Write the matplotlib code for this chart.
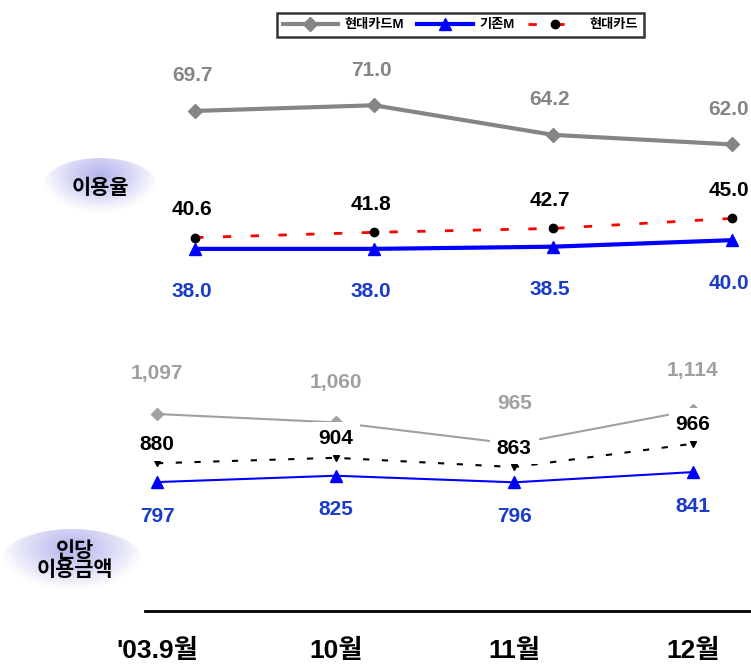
import numpy as np
import matplotlib
matplotlib.use("Agg")
import matplotlib.pyplot as plt
from matplotlib.patches import Ellipse
from matplotlib.colors import LinearSegmentedColormap

plt.rcParams['font.family'] = ['Liberation Sans', 'Noto Sans CJK KR']
plt.rcParams['font.weight'] = 'bold'

# 데이터
months = ["'03.9월", "10월", "11월", "12월"]
series_names = ["현대카드M", "기존M", "현대카드"]

rate_hm = [69.7, 71.0, 64.2, 62.0]      # 이용율 - 현대카드M
rate_old = [38.0, 38.0, 38.5, 40.0]     # 이용율 - 기존M
rate_hc = [40.6, 41.8, 42.7, 45.0]      # 이용율 - 현대카드

amt_hm = [1097, 1060, 965, 1114]        # 인당 이용금액 - 현대카드M
amt_old = [797, 825, 796, 841]          # 인당 이용금액 - 기존M
amt_hc = [880, 904, 863, 966]           # 인당 이용금액 - 현대카드

GRAY = '#858585'
BLUE = '#0000ff'
BLUE_TXT = '#1a3cc8'
FS = 15

fig = plt.figure(figsize=(7.51, 6.64), dpi=100)

# 배경 (타원 라벨)
bg = fig.add_axes([0, 0, 1, 1], zorder=-1)
bg.set_xlim(0, 751)
bg.set_ylim(664, 0)
bg.axis('off')
cmap = LinearSegmentedColormap.from_list('lav', ['#b4b4ec', '#d6d6f6', '#ffffff'])


def oval(cx, cy, w, h):
    e = Ellipse((cx, cy), w, h, facecolor='none', edgecolor='none')
    bg.add_patch(e)
    yy, xx = np.mgrid[-1:1:80j, -1:1:120j]
    r = np.sqrt(xx ** 2 + ((yy + 0.4) / 1.3) ** 2)
    im = bg.imshow(r, extent=(cx - w / 2, cx + w / 2, cy + h / 2, cy - h / 2),
                   cmap=cmap, vmin=0, vmax=1.05, aspect='auto', interpolation='bilinear')
    im.set_clip_path(e)


oval(100, 186, 114, 56)
bg.text(100, 188, "이용율", ha='center', va='center', fontsize=15, fontweight='bold')
oval(72, 560, 140, 62)
bg.text(75, 561, "인당\n이용금액", ha='center', va='center', fontsize=15,
        fontweight='bold', linespacing=0.95)

x = np.arange(len(months))

# 이용율 차트
ax1 = fig.add_axes([145 / 751, 1 - 300 / 664, 606 / 751, 260 / 664])
ax1.set_xlim(-0.28, 3.106)
ax1.set_ylim(26.25, 86.0)
ax1.axis('off')
l1, = ax1.plot(x, rate_hm, color=GRAY, lw=3, marker='D', ms=7, label=series_names[0])
l2, = ax1.plot(x, rate_old, color=BLUE, lw=3, marker='^', ms=9, label=series_names[1])
l3, = ax1.plot(x, rate_hc, color='red', lw=2, ls=(0, (3, 7)), marker='o', ms=6,
               mfc='black', mec='black', label=series_names[2])

for xi, v in zip(x, rate_hm):
    ax1.annotate(f"{v:.1f}", (xi, v), xytext=(-3, 35), textcoords='offset pixels',
                 ha='center', va='center', color=GRAY, fontsize=FS, fontweight='bold')
for xi, v in zip(x, rate_hc):
    ax1.annotate(f"{v:.1f}", (xi, v), xytext=(-3, 28), textcoords='offset pixels',
                 ha='center', va='center', color='black', fontsize=FS, fontweight='bold')
for xi, v in zip(x, rate_old):
    ax1.annotate(f"{v:.1f}", (xi, v), xytext=(-3, -43), textcoords='offset pixels',
                 ha='center', va='center', color=BLUE_TXT, fontsize=FS, fontweight='bold')

# 인당 이용금액 차트
ax2 = fig.add_axes([145 / 751, 1 - 611 / 664, 606 / 751, 271 / 664])
ax2.set_xlim(-0.067, 3.325)
ax2.set_ylim(229, 1423)
for s in ['top', 'right', 'left']:
    ax2.spines[s].set_visible(False)
ax2.spines['bottom'].set_linewidth(2)
ax2.set_yticks([])
ax2.set_xticks(x)
ax2.set_xticklabels(months, fontsize=19, fontweight='bold')
ax2.tick_params(axis='x', length=0, pad=20)
ax2.patch.set_alpha(0)

ax2.plot(x, amt_hm, color='#a0a0a0', lw=1.5, marker='D', ms=6)
ax2.plot(x, amt_old, color=BLUE, lw=1.5, marker='^', ms=8)
ax2.plot(x, amt_hc, color='black', lw=1.5, ls=(0, (3, 6)), marker='v', ms=5)

box = dict(facecolor='white', edgecolor='none', pad=3)
for xi, v in zip(x, amt_hm):
    ax2.annotate(f"{v:,}", (xi, v), xytext=(0, 40), textcoords='offset pixels',
                 ha='center', va='center', color='#a0a0a0', fontsize=FS,
                 fontweight='bold', bbox=box, zorder=5)
for xi, v in zip(x, amt_hc):
    ax2.annotate(f"{v:,}", (xi, v), xytext=(0, 19), textcoords='offset pixels',
                 ha='center', va='center', color='black', fontsize=FS,
                 fontweight='bold', bbox=dict(facecolor='white', edgecolor='none', pad=5), zorder=5)
for xi, v in zip(x, amt_old):
    ax2.annotate(f"{v:,}", (xi, v), xytext=(0, -34), textcoords='offset pixels',
                 ha='center', va='center', color=BLUE_TXT, fontsize=FS,
                 fontweight='bold', bbox=box, zorder=5)

leg = fig.legend(handles=[l1, l2, l3], loc='upper center', bbox_to_anchor=(0.613, 0.99),
                 ncol=3, frameon=True, fancybox=False, handlelength=4.2,
                 handletextpad=0.5, columnspacing=1.0, borderpad=0.45,
                 prop={'weight': 'bold', 'size': 9.5})
leg.get_frame().set_edgecolor('black')
leg.get_frame().set_linewidth(1.8)

fig.savefig('out.png', dpi=100)
